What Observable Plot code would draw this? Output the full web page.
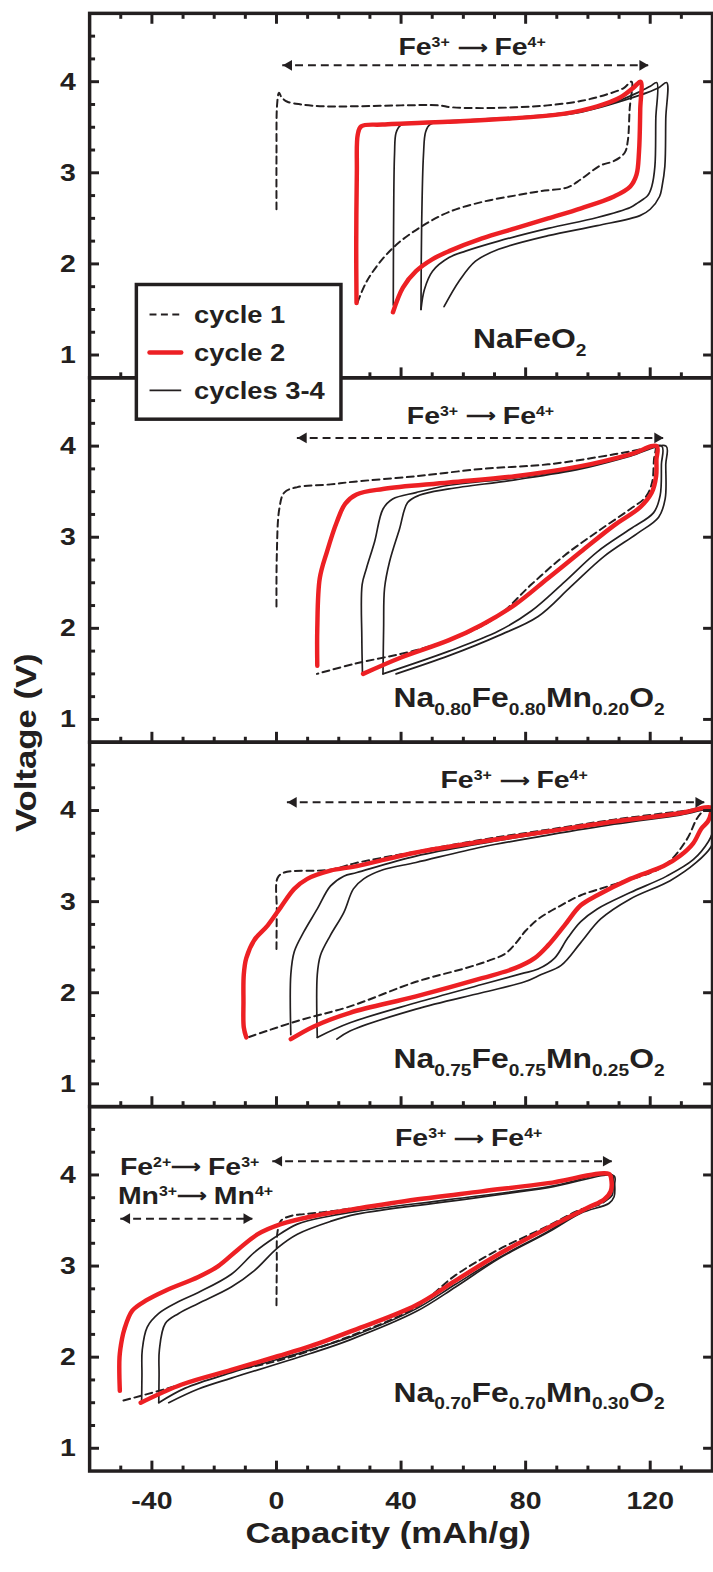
<!DOCTYPE html>
<html>
<head>
<meta charset="utf-8">
<script src="https://cdn.jsdelivr.net/npm/d3@7"></script>
<script src="https://cdn.jsdelivr.net/npm/@observablehq/plot@0.6"></script>
<style>
html,body{margin:0;padding:0;background:#fff;overflow:hidden}
#wrap{position:relative;width:713px;height:1572px;overflow:hidden;background:#fff}
#wrap svg{display:block}
</style>
</head>
<body>
<div id="wrap"></div>
<script>
// ---------------- DATA (capacity mAh/g, voltage V) ----------------
// Panel 1: NaFeO2
const p1_cycle1 = [[0,2.6],[0,3.2],[0.2,3.75],[0.8,3.88],[1.6,3.83],[3.5,3.78],[8,3.75],[15,3.73],[25,3.73],[40,3.74],[52,3.74],[56,3.72],[66,3.71],[77,3.72],[87,3.74],[98,3.79],[106,3.86],[111.5,3.93],[114,4.0],
  [113.4,3.7],[112.8,3.35],[111.8,3.22],[108.4,3.13],[104,3.08],[97.8,2.93],[93.5,2.84],[85,2.8],[76.6,2.75],[66,2.68],[55.4,2.57],[47,2.42],[39.5,2.24],[34.2,2.06],[29,1.81],[25.7,1.55]];
const p1_cycle2 = [[25.7,1.57],[25.6,2.2],[25.8,3.0],[26.1,3.42],[27.2,3.51],[34,3.53],[55,3.56],[77,3.6],[92.5,3.65],[103,3.73],[110.5,3.83],[114.8,3.94],[116.9,4.0],
  [116.8,3.7],[116.4,3.23],[115.6,2.98],[113.6,2.85],[108.4,2.74],[97.8,2.61],[87.2,2.5],[76.6,2.39],[66,2.28],[55.4,2.14],[50,2.05],[44.8,1.92],[40.6,1.74],[37.4,1.47]];
const p1_cycle3 = [[37.5,1.55],[37.6,2.4],[37.9,3.2],[38.4,3.44],[39.8,3.52],[45,3.545],[55,3.57],[77,3.61],[95,3.67],[103,3.72],[110.5,3.8],[116,3.88],[120,3.95],[122.1,3.99],
  [121.8,3.6],[121.5,3.07],[120.5,2.85],[119.2,2.75],[116,2.67],[113.6,2.62],[103,2.51],[87.2,2.39],[71.3,2.25],[60.7,2.14],[55.4,2.07],[50.1,1.92],[47.5,1.72],[46.4,1.5]];
const p1_cycle4 = [[46.4,1.5],[46.6,2.4],[47.2,3.2],[47.9,3.45],[49.3,3.53],[56,3.56],[77,3.6],[95,3.65],[103,3.71],[112,3.8],[119,3.88],[123,3.94],[125.3,3.99],
  [125,3.6],[124.7,3.07],[123.8,2.85],[123,2.74],[120,2.6],[116.7,2.53],[103,2.42],[87.2,2.31],[71.3,2.16],[63.9,2.03],[58.6,1.81],[53.8,1.53]];

// Panel 2: Na0.80Fe0.80Mn0.20O2
const p2_cycle1 = [[0,2.24],[0.1,2.8],[0.9,3.31],[2.5,3.49],[6.7,3.55],[17.3,3.58],[25,3.61],[44.8,3.67],[66,3.75],[87.2,3.8],[108.4,3.91],[119,3.98],[121.6,4.0],
  [121.2,3.85],[120.6,3.6],[118.5,3.44],[113.6,3.31],[103,3.06],[92.5,2.8],[81.8,2.48],[71.3,2.14],[60.7,1.94],[44.8,1.76],[25,1.61],[13,1.5]];
const p2_cycle2 = [[13.1,1.59],[13.1,2.0],[13.9,2.55],[16.2,2.84],[19.4,3.17],[22.1,3.37],[25.7,3.47],[34.2,3.53],[55.4,3.6],[76.6,3.67],[97.7,3.78],[113.6,3.91],[122.1,4.0],
  [122.0,3.85],[121.9,3.67],[120.5,3.49],[116.8,3.33],[108.4,3.13],[97.7,2.84],[87.2,2.55],[76.6,2.26],[66,2.04],[55.4,1.87],[40,1.68],[27.8,1.5]];
const p2_cycle3 = [[27.6,1.52],[27.4,1.9],[27.5,2.48],[28.9,2.66],[31.5,2.95],[34.2,3.31],[37.3,3.42],[44.8,3.49],[55.4,3.57],[76.6,3.65],[97.7,3.76],[113.6,3.9],[123.7,4.0],
  [123.6,3.8],[123.2,3.46],[121.1,3.27],[113.6,3.09],[103,2.84],[92.5,2.51],[81.8,2.19],[71.3,1.97],[55.4,1.75],[34.2,1.5]];
const p2_cycle4 = [[34.2,1.5],[34.4,2.0],[34.7,2.44],[36.3,2.73],[39.5,3.09],[42.1,3.38],[45.8,3.46],[55.4,3.53],[76.6,3.63],[97.7,3.75],[113.6,3.89],[125.1,4.0],
  [125.0,3.8],[124.8,3.42],[122.7,3.22],[115.8,3.04],[105.2,2.79],[94.6,2.46],[84,2.13],[71.3,1.92],[55.4,1.7],[38.4,1.5]];

// Panel 3: Na0.75Fe0.75Mn0.25O2
const p3_cycle1 = [[0,2.48],[0.1,2.9],[0.35,3.26],[2.5,3.32],[17.3,3.35],[25,3.42],[44.8,3.55],[66,3.68],[87.2,3.79],[108.4,3.9],[129.5,3.99],[137.5,4.02],
  [136.5,3.98],[134.8,3.9],[131.7,3.68],[124.3,3.39],[108.4,3.19],[97.7,3.07],[91.4,2.96],[84.5,2.82],[80,2.68],[77,2.55],[73.5,2.43],[68,2.35],[60.7,2.27],[44.8,2.12],[23.6,1.85],[6.7,1.69],[-9.2,1.51]];
const p3_cycle2 = [[-9.7,1.51],[-10.5,1.62],[-10.6,1.9],[-10.5,2.2],[-9.7,2.38],[-7.1,2.58],[-2.8,2.74],[1.4,2.94],[5.7,3.14],[9.9,3.25],[17.3,3.34],[25.8,3.39],[44.8,3.54],[66,3.66],[87.2,3.77],[108.4,3.88],[129.5,3.97],[139.5,4.03],
  [139.5,3.97],[138.5,3.88],[136.4,3.8],[133.8,3.64],[129.5,3.5],[124.3,3.39],[113.6,3.25],[103,3.07],[97.7,2.96],[92.5,2.74],[87.2,2.52],[82.9,2.38],[76.6,2.27],[66,2.16],[44.8,1.96],[23.6,1.78],[12,1.63],[4.6,1.49]];
const p3_cycle3 = [[4.6,1.54],[4.6,2.2],[5.7,2.45],[8.8,2.67],[13.1,2.92],[17.3,3.17],[21.6,3.28],[25.8,3.32],[44.8,3.5],[66,3.64],[87.2,3.76],[108.4,3.87],[129.5,3.96],[141,4.02],
  [141.5,3.9],[140.5,3.8],[138.7,3.66],[133.8,3.46],[125.3,3.28],[113.6,3.1],[103,2.92],[97.7,2.78],[93.5,2.6],[89.3,2.38],[84,2.26],[78.7,2.21],[65.9,2.09],[44.8,1.89],[23.6,1.67],[13.1,1.51]];
const p3_cycle4 = [[13.1,1.51],[13.1,2.2],[14.1,2.41],[17.3,2.63],[21.6,2.88],[24.7,3.14],[28,3.25],[34.2,3.35],[44.8,3.43],[66,3.6],[87.2,3.73],[108.4,3.85],[129.5,3.95],[142.5,4.02],
  [142.5,3.9],[141,3.75],[139.5,3.6],[134.8,3.43],[126.4,3.23],[113.6,3.03],[104.1,2.81],[97.7,2.55],[91.4,2.3],[85,2.2],[79.7,2.12],[65.9,2.0],[44.8,1.82],[23.6,1.58],[19.4,1.49]];

// Panel 4: Na0.70Fe0.70Mn0.30O2
const p4_cycle1 = [[0,2.57],[0.1,3.0],[0.35,3.38],[1.5,3.5],[4.6,3.55],[8.8,3.57],[17.3,3.6],[25.8,3.64],[44.8,3.73],[65.9,3.82],[87.2,3.91],[107.3,4.01],
  [107.5,3.9],[106.8,3.76],[104,3.68],[97.7,3.62],[87.2,3.44],[71.3,3.18],[57.5,2.9],[44.8,2.55],[23.6,2.23],[0.35,1.96],[-20.9,1.8],[-35.7,1.65],[-49.5,1.52]];
const p4_cycle2 = [[-50.3,1.63],[-50.4,2.0],[-49.6,2.2],[-48.9,2.3],[-46.3,2.51],[-42,2.62],[-35.7,2.73],[-25.1,2.88],[-18.7,3.0],[-12.4,3.18],[-6,3.35],[1.4,3.46],[12,3.55],[25.8,3.63],[44.8,3.73],[65.9,3.82],[87.2,3.91],[106.8,4.01],
  [107.5,3.95],[107.3,3.82],[105.2,3.73],[99.9,3.64],[87.2,3.42],[71.3,3.13],[57.5,2.84],[44.8,2.57],[23.6,2.28],[10.9,2.12],[0.35,2.01],[-14.5,1.86],[-30.4,1.7],[-43.6,1.5]];
const p4_cycle3 = [[-43.3,1.52],[-43.2,1.8],[-43.1,2.08],[-41.5,2.33],[-37.8,2.48],[-31.4,2.61],[-25.1,2.71],[-14.5,2.91],[-7.1,3.15],[-0.7,3.31],[6.7,3.46],[17.3,3.55],[25.8,3.6],[55.4,3.73],[87.2,3.87],[107.8,4.0],
  [108,3.9],[107.8,3.78],[105.2,3.71],[97.7,3.6],[87.2,3.38],[71.3,3.09],[57.5,2.8],[44.8,2.53],[23.6,2.22],[10.9,2.08],[-14.5,1.83],[-29.3,1.66],[-37.8,1.5]];
const p4_cycle4 = [[-37.8,1.5],[-37.7,1.8],[-37.6,2.08],[-35.7,2.37],[-31.4,2.48],[-25.1,2.59],[-14.5,2.77],[-7.1,2.95],[0.35,3.2],[6.7,3.35],[17.3,3.49],[25.8,3.57],[55.4,3.71],[87.2,3.86],[108.4,3.99],
  [108.6,3.9],[108.4,3.76],[106.8,3.69],[97.7,3.58],[87.2,3.37],[71.3,3.08],[57.5,2.77],[44.8,2.5],[23.6,2.19],[10.9,2.04],[-14.5,1.77],[-25.1,1.65],[-34.6,1.5]];

// Panel labels (markup: _sub_  ^sup^  ~smaller glyph~)
const formulas = ["NaFeO_2_", "Na_0.80_Fe_0.80_Mn_0.20_O_2_", "Na_0.75_Fe_0.75_Mn_0.25_O_2_", "Na_0.70_Fe_0.70_Mn_0.30_O_2_"];
const formulaCap = [81.3, 81.1, 81.1, 81.1];
const formulaV = [1.17, 1.23, 1.27, 1.61];

const redoxText = ["Fe^3+^ ~⟶~ Fe^4+^", "Fe^3+^ ~⟶~ Fe^4+^", "Fe^3+^ ~⟶~ Fe^4+^", "Fe^3+^ ~⟶~ Fe^4+^", "Fe^2+^~⟶~ Fe^3+^", "Mn^3+^~⟶~ Mn^4+^"];
const redoxPanel = [0, 1, 2, 3, 3, 3];
const redoxCap = [62.8, 65.5, 76.3, 61.7, -27.9, -26.0];
const redoxV = [4.38, 4.33, 4.33, 4.40, 4.09, 3.77];

// Dashed double-headed arrows
const arrowPanel = [0, 1, 2, 3, 3];
const arrowFrom = [2.0, 6.7, 3.5, -1.2, -50.0];
const arrowTo = [119.5, 124.3, 137.5, 107.8, -7.6];
const arrowV = [4.18, 4.09, 4.09, 4.15, 3.52];

// Axis ticks
const capMajor = [-40, 0, 40, 80, 120];
const capMinor = [-50, -30, -20, -10, 10, 20, 30, 50, 60, 70, 90, 100, 110, 130];
const vMajor = [1, 2, 3, 4];
const vMinor = [1.25, 1.5, 1.75, 2.25, 2.5, 2.75, 3.25, 3.5, 3.75, 4.25, 4.5];

const legendLabels = ["cycle 1", "cycle 2", "cycles 3-4"];

// ---------------- BUILD TABLES ----------------
const curveList = [
  [0,1,p1_cycle1],[0,2,p1_cycle2],[0,3,p1_cycle3],[0,4,p1_cycle4],
  [1,1,p2_cycle1],[1,2,p2_cycle2],[1,3,p2_cycle3],[1,4,p2_cycle4],
  [2,1,p3_cycle1],[2,2,p3_cycle2],[2,3,p3_cycle3],[2,4,p3_cycle4],
  [3,1,p4_cycle1],[3,2,p4_cycle2],[3,3,p4_cycle3],[3,4,p4_cycle4]
];
const rows = curveList.flatMap(([panel, cycle, pts]) =>
  pts.map(([cap, v]) => ({panel, cycle, key: panel + "-" + cycle, cap, v})));

const formulaRows = formulas.map((t, i) => ({panel: i, cap: formulaCap[i], v: formulaV[i], text: t}));
const redoxRows = redoxText.map((t, i) => ({panel: redoxPanel[i], cap: redoxCap[i], v: redoxV[i], text: t}));
const arrowRows = arrowPanel.map((p, i) => ({panel: p, from: arrowFrom[i], to: arrowTo[i], v: arrowV[i]}));
const headOffset = 2.0; // triangle centroid sits back from the tip
const headRows = arrowRows.flatMap(a => [
  {panel: a.panel, cap: a.from + headOffset, v: a.v, rot: -90},
  {panel: a.panel, cap: a.to - headOffset, v: a.v, rot: 90}
]);

// ---------------- STYLE ----------------
const black = "#231f20", red = "#ed2024";
const font = "'Liberation Sans', Arial, Helvetica, sans-serif";
const lineBase = {x: "cap", y: "v", z: "key", fy: "panel", curve: "catmull-rom", clip: true};
const noText = () => "";

const svg = Plot.plot({
  width: 720, height: 1572,
  marginLeft: 90, marginRight: 1, marginTop: 12.7, marginBottom: 87.3,
  style: {fontFamily: font, fontWeight: "bold", color: black, background: "white", overflow: "visible"},
  x: {domain: [-60, 140], label: null},
  y: {domain: [0.75, 4.75], label: null},
  fy: {domain: [0, 1, 2, 3], padding: 0, axis: null, label: null},
  marks: [
    Plot.line(rows.filter(d => d.cycle >= 3), {...lineBase, stroke: black, strokeWidth: 1.7}),
    Plot.line(rows.filter(d => d.cycle === 1), {...lineBase, stroke: black, strokeWidth: 2, strokeDasharray: "7,4.5"}),
    Plot.line(rows.filter(d => d.cycle === 2), {...lineBase, stroke: red, strokeWidth: 4.5, strokeLinecap: "round", strokeLinejoin: "round"}),
    Plot.ruleY(arrowRows, {fy: "panel", y: "v", x1: "from", x2: "to", stroke: black, strokeWidth: 2, strokeDasharray: "8,5"}),
    Plot.dot(headRows, {fy: "panel", x: "cap", y: "v", symbol: "triangle", r: 4, rotate: "rot", fill: black, stroke: "none"}),
    Plot.text(redoxRows, {fy: "panel", x: "cap", y: "v", text: "text", fontSize: 25, fontWeight: "bold", fill: black}),
    Plot.text(formulaRows, {fy: "panel", x: "cap", y: "v", text: "text", fontSize: 28, fontWeight: "bold", fill: black}),
    Plot.frame({stroke: black, strokeWidth: 3.5}),
    // inward ticks
    Plot.axisY({anchor: "left", ticks: vMajor, tickSize: -10, tickFormat: noText, strokeWidth: 3, stroke: black, label: null}),
    Plot.axisY({anchor: "left", ticks: vMinor, tickSize: -6, tickFormat: noText, strokeWidth: 3, stroke: black, label: null}),
    Plot.axisY({anchor: "right", ticks: vMajor, tickSize: -10, tickFormat: noText, strokeWidth: 3, stroke: black, label: null}),
    Plot.axisX({anchor: "bottom", facetAnchor: null, ticks: capMajor, tickSize: -10, tickFormat: noText, strokeWidth: 3, stroke: black, label: null}),
    Plot.axisX({anchor: "bottom", facetAnchor: null, ticks: capMinor, tickSize: -5, tickFormat: noText, strokeWidth: 3, stroke: black, label: null}),
    Plot.axisX({anchor: "top", ticks: capMajor, tickSize: -10, tickFormat: noText, strokeWidth: 3, stroke: black, label: null}),
    Plot.axisX({anchor: "top", ticks: capMinor, tickSize: -5, tickFormat: noText, strokeWidth: 3, stroke: black, label: null}),
    // tick labels
    Plot.axisY({anchor: "left", ticks: vMajor, tickSize: 0, tickPadding: 14, fontSize: 25, tickFormat: d => String(d), label: null}),
    Plot.axisX({anchor: "bottom", ticks: capMajor, tickSize: 0, tickPadding: 21, fontSize: 25, tickFormat: d => String(d), label: null})
  ]
});

document.getElementById("wrap").appendChild(svg);

// ---------------- AXIS TITLES & LEGEND ----------------
const s = d3.select(svg);
s.append("text").attr("transform", "translate(392,1558)").attr("text-anchor", "middle")
  .attr("font-size", 30.5).attr("font-weight", "bold").attr("fill", black).attr("font-family", font)
  .text("Capacity (mAh/g)");
s.append("text").attr("transform", "translate(36,750) rotate(-90)").attr("text-anchor", "middle")
  .attr("font-size", 30.5).attr("font-weight", "bold").attr("fill", black).attr("font-family", font)
  .text("Voltage (V)");

const lg = s.append("g");
lg.append("rect").attr("x", 137.7).attr("y", 287.3).attr("width", 206.6).attr("height", 136)
  .attr("fill", "white").attr("stroke", black).attr("stroke-width", 3.5);
const legendY = [317.7, 356, 394.3];
const legendStyle = [
  {stroke: black, w: 2, dash: "7,4.5", cap: "butt"},
  {stroke: red, w: 4.5, dash: null, cap: "round"},
  {stroke: black, w: 1.7, dash: null, cap: "butt"}
];
legendLabels.forEach((lab, i) => {
  const st = legendStyle[i];
  lg.append("line").attr("x1", 151).attr("x2", 183).attr("y1", legendY[i]).attr("y2", legendY[i])
    .attr("stroke", st.stroke).attr("stroke-width", st.w).attr("stroke-linecap", st.cap)
    .attr("stroke-dasharray", st.dash);
  lg.append("text").attr("transform", `translate(196,${legendY[i] + 8.5})`).attr("text-anchor", "start")
    .attr("font-size", 24).attr("font-weight", "bold").attr("fill", black).attr("font-family", font)
    .text(lab);
});

// ---------------- RICH TEXT (sub/superscripts) ----------------
const NS = "http://www.w3.org/2000/svg";
svg.querySelectorAll("text").forEach(t => {
  const str = t.textContent;
  if (!/[\^_~]/.test(str)) return;
  const base = parseFloat(getComputedStyle(t).fontSize) || 25;
  const parts = str.split(/(\^[^\^]*\^|_[^_]*_|~[^~]*~)/).filter(p => p.length);
  t.textContent = "";
  let cur = 0;
  parts.forEach(p => {
    let txt = p, off = 0, size = null;
    if (p[0] === "^") { txt = p.slice(1, -1); off = -0.33 * base; size = 0.56 * base; }
    else if (p[0] === "_") { txt = p.slice(1, -1); off = 0.27 * base; size = 0.6 * base; }
    else if (p[0] === "~") { txt = p.slice(1, -1); off = -0.06 * base; size = 0.72 * base; }
    const ts = document.createElementNS(NS, "tspan");
    if (size) ts.setAttribute("font-size", size);
    if (off - cur !== 0) ts.setAttribute("dy", off - cur);
    cur = off;
    ts.textContent = txt;
    t.appendChild(ts);
  });
});

// ---------------- HORIZONTAL STRETCH OF LETTERING ----------------
const SX = 1.15;
svg.querySelectorAll("text").forEach(t => {
  const tr = t.getAttribute("transform");
  t.setAttribute("transform", (tr ? tr + " " : "") + `scale(${SX},1)`);
});
</script>
</body>
</html>
